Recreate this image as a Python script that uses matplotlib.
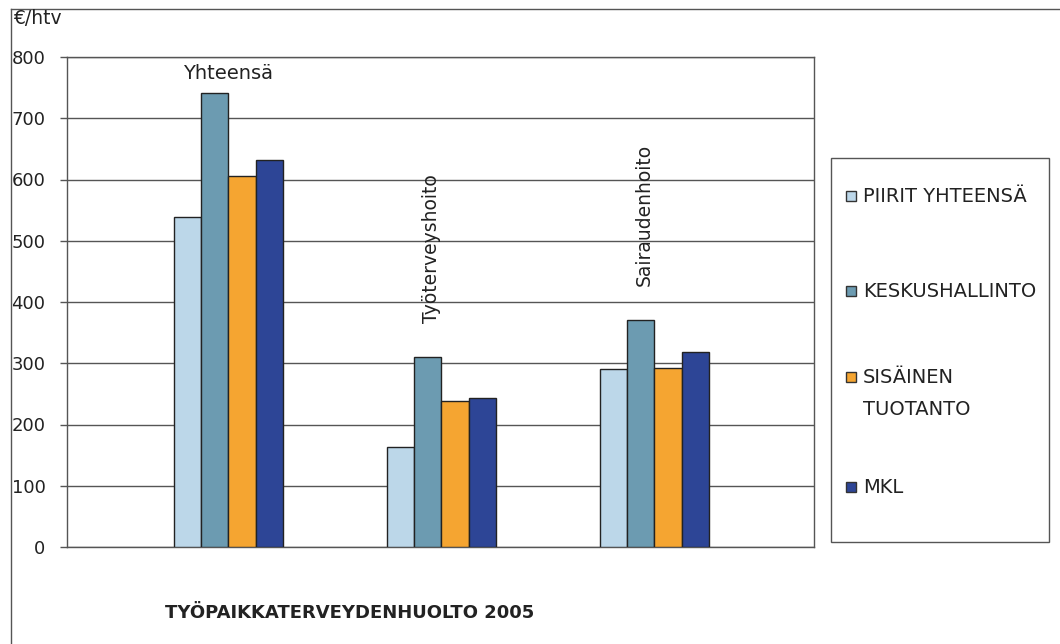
import matplotlib
matplotlib.use("Agg")
import matplotlib.pyplot as plt
from matplotlib.patches import Rectangle
from matplotlib.lines import Line2D
import numpy as np

# kustannukset €/htv
kategoriat = ["Yhteensä", "Työterveyshoito", "Sairaudenhoito"]
sarjat = ["PIIRIT YHTEENSÄ", "KESKUSHALLINTO", "SISÄINEN\nTUOTANTO", "MKL"]
piirit = [538, 164, 290]
keskushallinto = [741, 310, 371]
sisainen = [605, 239, 293]
mkl = [632, 244, 318]
arvot = [piirit, keskushallinto, sisainen, mkl]
varit = ["#bcd7e9", "#6c9bb1", "#f5a531", "#2d4596"]

W, H = 1060, 644
fig = plt.figure(figsize=(W / 100, H / 100), dpi=100)
fig.patch.set_facecolor("white")

def px(x, y):
    return x / W, 1 - y / H

# kaavion ulkokehys
fig.add_artist(Line2D([11 / W, 11 / W], [0, 1 - 9 / H], color="#555555", lw=1))
fig.add_artist(Line2D([11 / W, 1], [1 - 9 / H, 1 - 9 / H], color="#555555", lw=1))

ax = fig.add_axes([67 / W, 1 - 547 / H, (814 - 67) / W, (547 - 57) / H])
x = np.arange(len(kategoriat))
leveys = 0.127
for i, (vals, c) in enumerate(zip(arvot, varit)):
    ax.bar(x + (i - 1.5) * leveys, vals, leveys, color=c, edgecolor="#222222",
           linewidth=1, zorder=3)

ax.set_xlim(-0.758, 2.749)
ax.set_ylim(0, 800)
ax.set_yticks(range(0, 801, 100))
ax.set_xticks([])
ax.yaxis.grid(True, color="#555555", lw=1, zorder=0)
ax.tick_params(axis="y", length=5, width=1, color="#555555", pad=10.5,
               labelsize=13, labelcolor="#222222")
for s in ax.spines.values():
    s.set_color("#555555")
    s.set_linewidth(1)

# kategorioiden nimet pylväiden yläpuolelle
huiput = [max(v) for v in zip(*arvot)]
ax.text(x[0], huiput[0] + 17, kategoriat[0], ha="center", va="bottom",
        fontsize=14, color="#222222")
for i in (1, 2):
    ax.text(x[i] - 0.047, huiput[i] + 55, kategoriat[i], ha="center", va="bottom",
            rotation=90, fontsize=13.5, color="#222222")

fig.text(*px(13, 19), "€/htv", ha="left", va="center", fontsize=13.5, color="#222222")

# selite
lx0, ly0, lx1, ly1 = 831, 158, 1049, 542
fig.add_artist(Rectangle(px(lx0, ly1), (lx1 - lx0) / W, (ly1 - ly0) / H,
                         facecolor="white", edgecolor="#555555", lw=1))
rivit = [196, 291, 377, 487]
for nimi, c, y in zip(sarjat, varit, rivit):
    fig.add_artist(Rectangle(px(846, y + 5), 10 / W, 10 / H, facecolor=c,
                             edgecolor="#333333", lw=1))
    fig.text(*px(863, y - 9), nimi, ha="left", va="top", fontsize=14,
             color="#222222", linespacing=1.88)

fig.text(*px(165, 613), "TYÖPAIKKATERVEYDENHUOLTO 2005", ha="left", va="center",
         fontsize=13, fontweight="bold", color="#222222")

fig.savefig("out.png", dpi=100)
